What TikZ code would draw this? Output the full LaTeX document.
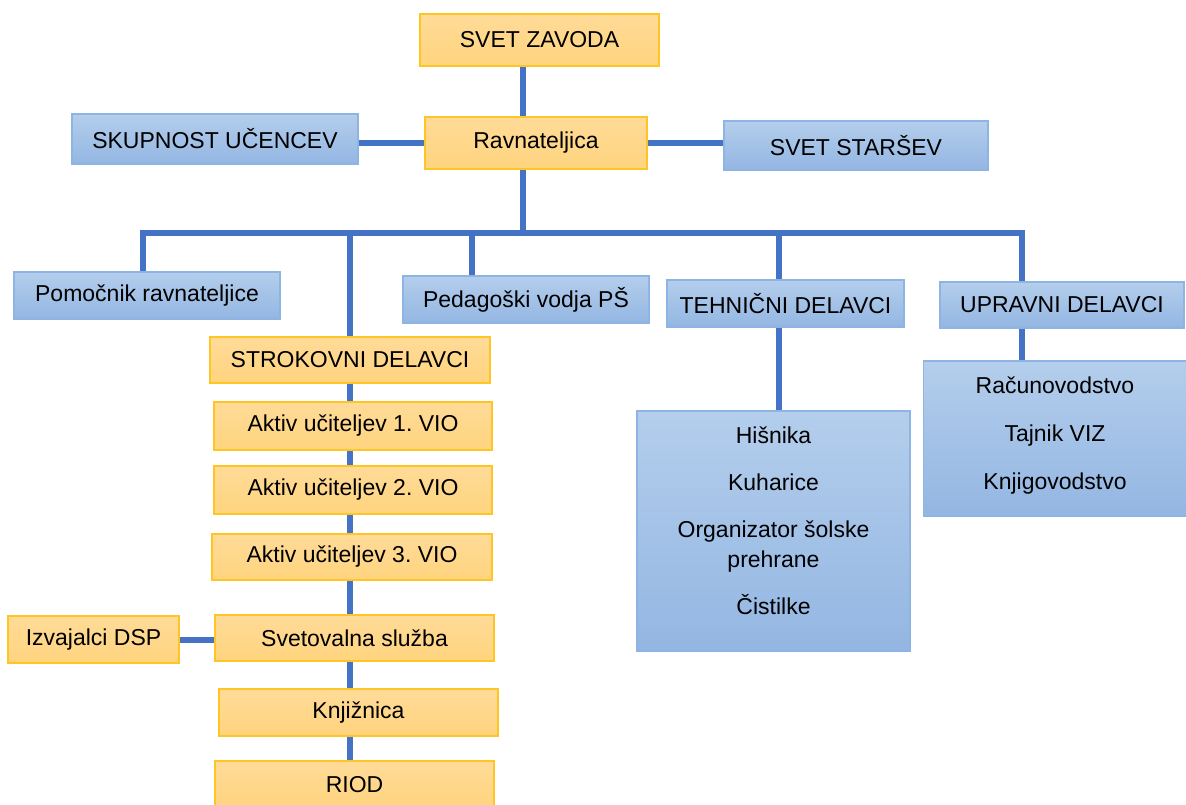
\documentclass[tikz,border=0pt]{standalone}
\usepackage{fontspec}
\setmainfont{Liberation Sans}
\usepackage{tikz}
\frenchspacing
\definecolor{lineblue}{HTML}{4472C4}
\definecolor{orangetop}{HTML}{FFDB98}
\definecolor{orangebot}{HTML}{FFD47E}
\definecolor{orangeedge}{HTML}{FFC525}
\definecolor{bluetop}{HTML}{B4CEEC}
\definecolor{bluebot}{HTML}{93B6E2}
\definecolor{blueedge}{HTML}{8DB4E2}
\tikzset{obox/.style = {rectangle, draw=orangeedge, line width=1.3pt, top color=orangetop, bottom color=orangebot, inner sep=0pt, font=\fontsize{23}{30}\selectfont}}
\tikzset{bbox/.style = {rectangle, draw=blueedge, line width=1.3pt, top color=bluetop, bottom color=bluebot, inner sep=0pt, font=\fontsize{23}{30}\selectfont}}
\tikzset{edge/.style = {draw=lineblue, line width=6pt}}

\begin{document}
\begin{tikzpicture}[x=1pt,y=-1pt]
                \useasboundingbox (0,0) rectangle (1186,804);
                \node[obox, minimum width=239, minimum height=52] (zavod) at (539.5,40) {SVET ZAVODA};
                \node[obox, minimum width=222, minimum height=52] (rav) at (536,143) {Ravnateljica};
                \node[bbox, minimum width=286, minimum height=50] (ucenci) at (215,139) {SKUPNOST UČENCEV};
                \node[bbox, minimum width=264, minimum height=49] (starsi) at (856,145.5) {SVET STARŠEV};
                \node[bbox, minimum width=266, minimum height=47] (pomocnik) at (147,295.5) {Pomočnik ravnateljice};
                \node[bbox, minimum width=246, minimum height=47] (pedagog) at (526,299.5) {Pedagoški vodja PŠ};
                \node[bbox, minimum width=237, minimum height=47] (tehnicni) at (785.5,303.5) {TEHNIČNI DELAVCI};
                \node[bbox, minimum width=244, minimum height=46] (upravni) at (1062,305) {UPRAVNI DELAVCI};
                \node[obox, minimum width=280, minimum height=46] (strokovni) at (350,360) {STROKOVNI DELAVCI};
                \node[obox, minimum width=278, minimum height=48] (aktiv1) at (353,426) {Aktiv učiteljev 1. VIO};
                \node[obox, minimum width=278, minimum height=48] (aktiv2) at (353,490) {Aktiv učiteljev 2. VIO};
                \node[obox, minimum width=280, minimum height=46] (aktiv3) at (352,557) {Aktiv učiteljev 3. VIO};
                \node[obox, minimum width=279, minimum height=46] (svet) at (354.5,638) {Svetovalna služba};
                \node[obox, minimum width=171, minimum height=47] (dsp) at (93.5,639.5) {Izvajalci DSP};
                \node[obox, minimum width=279, minimum height=47] (knjiz) at (358.5,712.5) {Knjižnica};
                \node[obox, minimum width=279, minimum height=47] (riod) at (354.5,784.5) {RIOD};
                \node[bbox, inner sep=11pt] (tehbox) at (773.5,531) {\parbox[c][218pt][t]{251pt}{\centering\strut Hišnika\\[17pt] Kuharice\\[17pt] Organizator šolske\\ prehrane\\[17pt] Čistilke}};
                \node[bbox, inner sep=11pt] (uprbox) at (1055,438.5) {\parbox[c][133pt][t]{241pt}{\centering\strut Računovodstvo\\[18pt] Tajnik VIZ\\[18pt] Knjigovodstvo}};
                \coordinate (b0) at (523,233);
                \coordinate (b1) at (143,233);
                \coordinate (b2) at (350,233);
                \coordinate (b3) at (472,233);
                \coordinate (b4) at (779,233);
                \coordinate (b5) at (1022,233);
                \draw[edge] (zavod.south -| b0) -- (rav.north -| b0);
                \draw[edge] (rav.south -| b0) -- (b0);
                \draw[edge] (rav.west) -- (rav.west -| ucenci.east);
                \draw[edge] (rav.east) -- (rav.east -| starsi.west);
                \draw[edge] (b1 |- pomocnik.north) -- (b1) -- (b5) -- (b5 |- upravni.north);
                \draw[edge] (b2) -- (b2 |- strokovni.north);
                \draw[edge] (b3) -- (b3 |- pedagog.north);
                \draw[edge] (b4) -- (b4 |- tehnicni.north);
                \draw[edge] (b4 |- tehnicni.south) -- (b4 |- tehbox.north);
                \draw[edge] (b5 |- upravni.south) -- (b5 |- uprbox.north);
                \draw[edge] (strokovni.south) -- (strokovni.south |- aktiv1.north);
                \draw[edge] (strokovni.south |- aktiv1.south) -- (strokovni.south |- aktiv2.north);
                \draw[edge] (strokovni.south |- aktiv2.south) -- (strokovni.south |- aktiv3.north);
                \draw[edge] (strokovni.south |- aktiv3.south) -- (strokovni.south |- svet.north);
                \draw[edge] (strokovni.south |- svet.south) -- (strokovni.south |- knjiz.north);
                \draw[edge] (strokovni.south |- knjiz.south) -- (strokovni.south |- riod.north);
                \draw[edge] (dsp.east) -- (dsp.east -| svet.west);
            \end{tikzpicture}
\end{document}
